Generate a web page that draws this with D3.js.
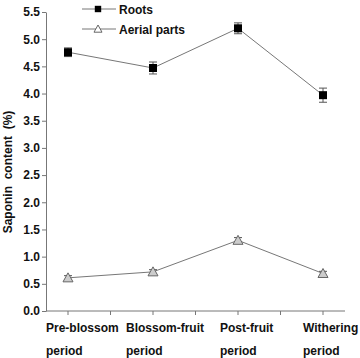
<!DOCTYPE html>
<html><head><meta charset="utf-8">
<script src="https://cdn.jsdelivr.net/npm/d3@7"></script>
<style>body{margin:0;background:#fff}svg{display:block}text{font-family:"Liberation Sans",Arial,sans-serif;font-weight:bold;white-space:pre}</style>
</head><body><svg id="c" width="360" height="358"></svg>
<script>
const categories = ["Pre-blossom period","Blossom-fruit period","Post-fruit period","Withering period"];
const labelLine1 = ["Pre-blossom","Blossom-fruit","Post-fruit","Withering"];
const labelLine2 = ["period","period","period","period"];
const roots = [4.76, 4.47, 5.20, 3.97];
const rootsErr = [0.08, 0.11, 0.10, 0.13];
const aerial = [0.61, 0.72, 1.30, 0.69];
const aerialErr = [0.04, 0.04, 0.05, 0.04];
const yTicks = [0,0.5,1,1.5,2,2.5,3,3.5,4,4.5,5,5.5];

const svg = d3.select("#c");
const x = d3.scalePoint().domain(categories).range([68,323]);
const y = d3.scaleLinear().domain([0,5.5]).range([311,12]);
const step = x.step();

// y axis
const ya = svg.append("g").attr("transform","translate(46,0)")
  .call(d3.axisLeft(y).tickValues(yTicks).tickFormat(d3.format(".1f")).tickSize(4).tickSizeOuter(0));
ya.select(".domain").attr("stroke","#777");
ya.selectAll(".tick line").attr("stroke","#777");
ya.selectAll("text").attr("font-size",12).attr("fill","#111").attr("x",-6);

// x axis with half-step ticks
svg.append("line").attr("x1",46).attr("x2",345).attr("y1",y(0)).attr("y2",y(0)).attr("stroke","#777");
const tickXs = [];
categories.forEach((c,i)=>{tickXs.push(x(c)); if(i<categories.length-1) tickXs.push(x(c)+step/2);});
svg.selectAll(".xt").data(tickXs).enter().append("line")
  .attr("x1",d=>d).attr("x2",d=>d).attr("y1",y(0)).attr("y2",y(0)+4).attr("stroke","#777");

const offs = [-22,-27,-18,-20];
svg.selectAll(".xl1").data(categories).enter().append("text")
  .attr("x",(d,i)=>x(d)+offs[i]).attr("y",332).attr("font-size",12).attr("fill","#111")
  .text((d,i)=>labelLine1[i]);
svg.selectAll(".xl2").data(categories).enter().append("text")
  .attr("x",(d,i)=>x(d)+offs[i]).attr("y",355).attr("font-size",12).attr("fill","#111")
  .text((d,i)=>labelLine2[i]);

// y label
svg.append("text").attr("transform","translate(12,172) rotate(-90)").attr("text-anchor","middle")
  .attr("font-size",12).attr("fill","#111").text("Saponin  content  (%)");

const line = d3.line().x((d,i)=>x(categories[i])).y(d=>y(d));
function series(vals, errs, marker){
  svg.append("path").datum(vals).attr("d",line).attr("fill","none").attr("stroke","#777").attr("stroke-width",1);
  vals.forEach((v,i)=>{
    const cx = x(categories[i]);
    const g = svg.append("g").attr("stroke","#555").attr("stroke-width",1);
    g.append("line").attr("x1",cx).attr("x2",cx).attr("y1",y(v+errs[i])).attr("y2",y(v-errs[i]));
    g.append("line").attr("x1",cx-4).attr("x2",cx+4).attr("y1",y(v+errs[i])).attr("y2",y(v+errs[i]));
    g.append("line").attr("x1",cx-4).attr("x2",cx+4).attr("y1",y(v-errs[i])).attr("y2",y(v-errs[i]));
    marker(cx, y(v), 1);
  });
}
function sq(cx,cy,s){const h=4*s;svg.append("rect").attr("x",cx-h).attr("y",cy-h).attr("width",2*h).attr("height",2*h).attr("fill","#000");}
function tri(cx,cy,s){svg.append("path").attr("d",`M${cx},${cy-5*s}L${cx+5*s},${cy+4*s}L${cx-5*s},${cy+4*s}Z`).attr("fill",s<1?"#fff":"#ccc").attr("stroke","#666");}
series(roots, rootsErr, sq);
series(aerial, aerialErr, tri);

// legend
const leg = [{name:"Roots",m:sq,y:9},{name:"Aerial parts",m:tri,y:29}];
leg.forEach(l=>{
  svg.append("line").attr("x1",82).attr("x2",116).attr("y1",l.y).attr("y2",l.y).attr("stroke","#777");
  l.m(98,l.y,0.8);
  svg.append("text").attr("x",119).attr("y",l.y+4.5).attr("font-size",12).attr("fill","#111").text(l.name);
});
</script></body></html>
